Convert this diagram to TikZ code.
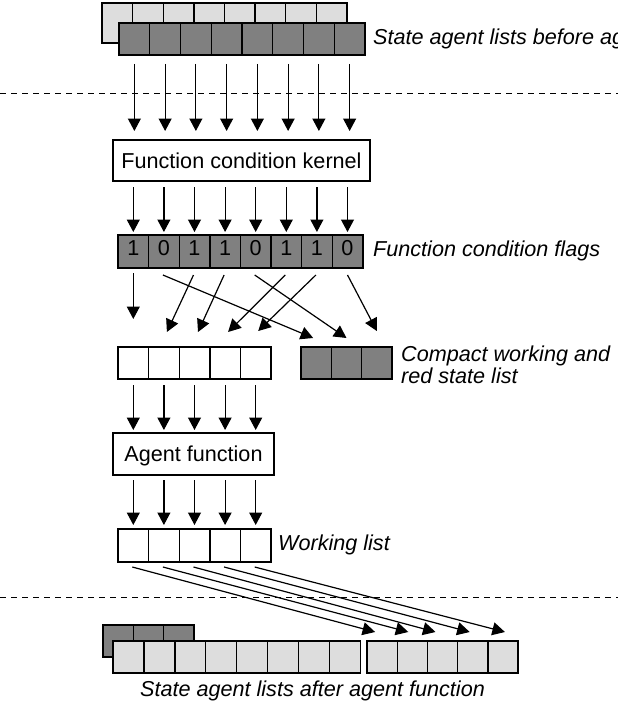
\documentclass[tikz,border=0pt]{standalone}
\usepackage{fontspec}
\setmainfont{Liberation Sans}
\usetikzlibrary{arrows.meta,calc}
\definecolor{dk}{HTML}{808080}
\definecolor{lt}{HTML}{DDDDDD}
\begin{document}
\begin{tikzpicture}[x=1pt,y=-1pt,
  every node/.style={font=\fontsize{21.6}{22}\selectfont},
  cell/.style={draw,line width=1.4pt,minimum height=32pt,inner sep=0pt,outer sep=0pt,anchor=north west},
  box/.style={draw,line width=1.4pt,inner sep=0pt,outer sep=0pt,text height=15.5pt,text depth=0pt},
  arr/.style={line width=1.2pt,-{Triangle[width=13pt,length=12.5pt]}},
  lbl/.style={anchor=base west,inner sep=0pt,font=\fontsize{21.6}{22}\selectfont\itshape},
  sepline/.style={line width=1pt,dash pattern=on 6pt off 5pt}]
\useasboundingbox (0,0) rectangle (618,701);
\clip (0,0) rectangle (618,701);
% top lists
\foreach \i in {1,...,8}
  \node[cell,fill=lt,minimum width=30.6pt,minimum height=40pt] (tb\i) at ({102+30.6*(\i-1)},3) {};
\foreach \i in {1,...,8}
  \node[cell,fill=dk,minimum width=30.75pt] (tf\i) at ({119+30.75*(\i-1)},23) {};
\node[lbl] (toplbl) at (373,44.5) {State agent lists before ag};
\draw[sepline] (0,93) -- (618,93);
% kernel
\node[box,minimum width=257pt,minimum height=41pt] (kern) at (241.5,160.5) {Function condition kernel};
\foreach \i in {1,...,8}
  \draw[arr,shorten <=9pt,shorten >=9pt] (tf\i.south) -- (tf\i.south |- kern.north);
% flags
\foreach \i/\v in {1/1,2/0,3/1,4/1,5/0,6/1,7/1,8/0}
  \node[cell,fill=dk,minimum width=30.6pt,minimum height=33pt,text height=15.5pt,text depth=7pt] (fl\i) at ({118+30.6*(\i-1)},235) {\v};
\node[lbl] (fllbl) at (373,256) {Function condition flags};
\foreach \i in {1,...,8}
  \draw[arr,shorten <=6pt,shorten >=3pt] (fl\i.north |- kern.south) -- (fl\i.north);
% working list and compact list
\foreach \i in {1,...,5}
  \node[cell,fill=white,minimum width=30.6pt] (w\i) at ({118+30.6*(\i-1)},347) {};
\foreach \i in {1,...,3}
  \node[cell,fill=dk,minimum width=30.33pt] (c\i) at ({301+30.33*(\i-1)},347) {};
\node[lbl] (cl1) at (401,361) {Compact working and};
\node[lbl] (cl2) at (401,383) {red state list};
\draw[arr] ($(fl1.south)+(0,5)$) -- ($(w1.north)+(0,-28)$);
\draw[arr] ($(fl2.south)+(-1,7)$) -- ($(c1.north)+(-3,-9)$);
\draw[arr] ($(fl3.south)+(-1,7)$) -- ($(w2.north)+(3,-15)$);
\draw[arr] ($(fl4.south)+(-1,7)$) -- ($(w3.north)+(3.5,-15)$);
\draw[arr] ($(fl5.south)+(-1,7)$) -- ($(c2.north)+(0,-9)$);
\draw[arr] ($(fl6.south)+(-1,7)$) -- ($(w4.north)+(3,-15)$);
\draw[arr] ($(fl7.south)+(-1,7)$) -- ($(w5.north)+(2.5,-16)$);
\draw[arr] ($(fl8.south)+(0,7)$) -- ($(c3.north)+(0,-16)$);
% agent function
\node[box,minimum width=161pt,minimum height=42pt] (agent) at (193.5,454) {Agent function};
\foreach \i in {1,...,5}
  \draw[arr,shorten <=6pt,shorten >=3pt] (w\i.south) -- (w\i.south |- agent.north);
\foreach \i in {1,...,5}
  \node[cell,fill=white,minimum width=30.6pt,minimum height=33pt] (wl\i) at ({118+30.6*(\i-1)},529) {};
\node[lbl] (wllbl) at (278,550) {Working list};
\foreach \i in {1,...,5}
  \draw[arr,shorten <=5pt,shorten >=4pt] (wl\i.north |- agent.south) -- (wl\i.north);
\draw[sepline] (0,597) -- (618,597);
% bottom lists
\foreach \i in {1,...,3}
  \node[cell,fill=dk,minimum width=30.33pt] (bb\i) at ({103+30.33*(\i-1)},625) {};
\foreach \i in {1,...,8}
  \node[cell,fill=lt,minimum width=30.9pt] (bf\i) at ({113+30.9*(\i-1)},641) {};
\foreach \i in {1,...,5}
  \node[cell,fill=lt,minimum width=30.2pt] (bs\i) at ({367+30.2*(\i-1)},641) {};
\foreach \i/\o in {1/-7,2/-4,3/-7,4/-3,5/2}
  \draw[arr] ($(wl\i.south)+(-1,5)$) -- ($(bs\i.north)+(\o,-9)$);
\node[anchor=base,inner sep=0pt,font=\fontsize{21.6}{22}\selectfont\itshape] (botlbl) at (312.5,696) {State agent lists after agent function};
\end{tikzpicture}
\end{document}
